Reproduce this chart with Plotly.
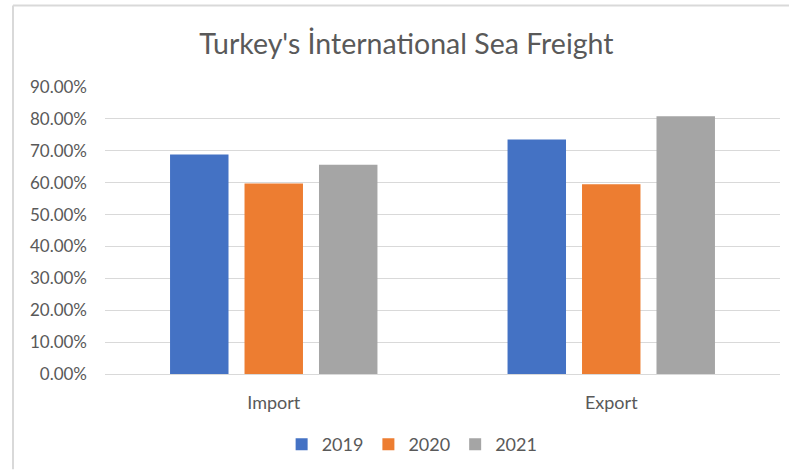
import plotly.graph_objects as go

categories = ["Import", "Export"]
years = ["2019", "2020", "2021"]
values_2019 = [0.688, 0.735]
values_2020 = [0.597, 0.595]
values_2021 = [0.656, 0.808]
colors = ["#4472C4", "#ED7D31", "#A5A5A5"]
tick_vals = [0, 0.1, 0.2, 0.3, 0.4, 0.5, 0.6, 0.7, 0.8, 0.9]

series = [values_2019, values_2020, values_2021]

fig = go.Figure()
for name, vals, col in zip(years, series, colors):
    fig.add_trace(go.Bar(x=categories, y=vals, name=name,
                         marker=dict(color=col, line=dict(width=0))))

PH = 289.0
fig.update_layout(
    width=789, height=472,
    margin=dict(l=105, r=9, t=87, b=96),
    paper_bgcolor="white", plot_bgcolor="white",
    font=dict(family="Lato", color="#595959", size=16),
    title=dict(text="Turkey's İnternational Sea Freight", x=0.515, xanchor="center",
               y=1 - 44 / 472, yanchor="middle",
               font=dict(size=28.5, color="#595959", family="Lato")),
    barmode="group", bargap=0.338, bargroupgap=0.215,
    showlegend=True,
    legend=dict(orientation="h", x=0.455, xanchor="center", y=-71 / PH, yanchor="middle",
                font=dict(size=18, color="#595959"), itemwidth=30,
                traceorder="normal"),
    shapes=[
        dict(type="line", xref="paper", yref="paper",
             x0=(13 - 105) / 675, x1=(13 - 105) / 675, y0=(376 - 472) / PH, y1=(376 - 5) / PH,
             line=dict(color="#D9D9D9", width=2), layer="below"),
        dict(type="line", xref="paper", yref="paper",
             x0=(13 - 105) / 675, x1=(789 - 105) / 675, y0=(376 - 5) / PH, y1=(376 - 5) / PH,
             line=dict(color="#D9D9D9", width=2), layer="below"),
    ],
)
fig.update_yaxes(range=[0, 0.9], tickvals=tick_vals, tickformat=".2%",
                 showgrid=True, gridcolor="#D9D9D9", gridwidth=1,
                 zeroline=False, showline=False, ticklabelstandoff=17,
                 tickfont=dict(size=17, color="#595959"))
fig.update_xaxes(showline=True, linecolor="#D9D9D9", linewidth=1,
                 ticks="", ticklabelstandoff=12,
                 tickfont=dict(size=18, color="#595959"))

fig.write_html("out.html", config={"displayModeBar": False},
               post_script="document.body.style.margin='0';document.body.style.overflow='hidden';")
